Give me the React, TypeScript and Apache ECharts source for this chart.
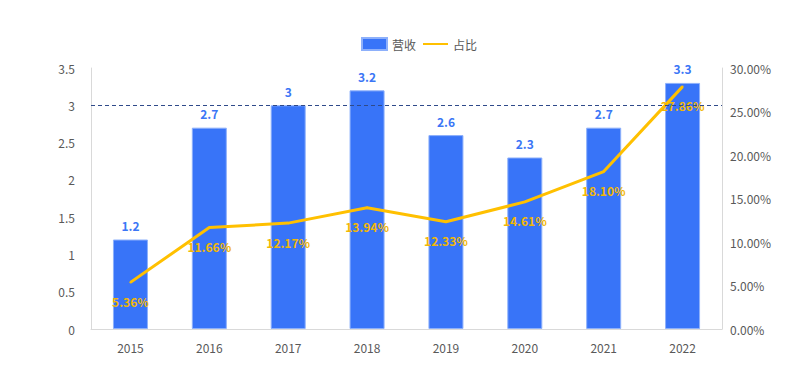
import React, { useEffect, useRef } from "react";
import * as echarts from "echarts";

const categories = ["2015", "2016", "2017", "2018", "2019", "2020", "2021", "2022"];
const revenue = [1.2, 2.7, 3, 3.2, 2.6, 2.3, 2.7, 3.3];
const ratio = [5.36, 11.66, 12.17, 13.94, 12.33, 14.61, 18.1, 27.86];
const refLine = 3;

const FONT = "'Noto Sans CJK SC', 'Noto Sans', sans-serif";

export default function App() {
  const ref = useRef<HTMLDivElement>(null);
  useEffect(() => {
    const chart = echarts.init(ref.current!, null, { renderer: "svg" });
    chart.setOption({
      animation: false,
      textStyle: { fontFamily: FONT },
      legend: {
        top: 32,
        left: 356,
        itemWidth: 25,
        itemHeight: 12,
        itemGap: 6,
        textStyle: { color: "#595959", fontSize: 12, fontFamily: FONT },
        data: [
          { name: "营收", icon: "rect" },
          { name: "占比", itemStyle: { opacity: 0 } },
        ],
      },
      grid: { left: 91, right: 85, top: 68, bottom: 53 },
      xAxis: {
        type: "category",
        data: categories,
        axisLine: { show: true, lineStyle: { color: "#D9D9D9", width: 1 } },
        axisTick: { show: false },
        axisLabel: { color: "#595959", fontSize: 12, margin: 12, fontFamily: FONT },
      },
      yAxis: [
        {
          type: "value",
          min: 0,
          max: 3.5,
          interval: 0.5,
          axisLine: { show: true, lineStyle: { color: "#D9D9D9" } },
          axisTick: { show: false },
          splitLine: { show: false },
          axisLabel: { color: "#595959", fontSize: 12, margin: 16, fontFamily: FONT },
        },
        {
          type: "value",
          min: 0,
          max: 30,
          interval: 5,
          position: "right",
          axisLine: { show: true, lineStyle: { color: "#D9D9D9" } },
          axisTick: { show: false },
          splitLine: { show: false },
          axisLabel: {
            color: "#595959",
            fontSize: 12,
            margin: 8,
            fontFamily: FONT,
            formatter: (v: number) => v.toFixed(2) + "%",
          },
        },
      ],
      series: [
        {
          name: "营收",
          type: "bar",
          data: revenue,
          barWidth: 35,
          itemStyle: { color: "#3874F8", borderColor: "#8DB0FB", borderWidth: 1 },
          label: {
            show: true,
            position: "top",
            distance: 8,
            color: "#3B76F6",
            fontWeight: "bold",
            fontSize: 12,
            fontFamily: FONT,
          },
          markLine: {
            silent: true,
            symbol: "none",
            label: { show: false },
            lineStyle: { color: "#2F4A8A", type: [4, 3], width: 1 },
            data: [{ yAxis: refLine }],
          },
          z: 2,
        },
        {
          name: "占比",
          type: "line",
          yAxisIndex: 1,
          data: ratio,
          symbol: "circle",
          symbolSize: 2,
          showSymbol: true,
          lineStyle: { color: "#FFC000", width: 3 },
          itemStyle: { color: "#FFC000" },
          label: {
            show: true,
            position: "bottom",
            distance: 12,
            color: "#F2B705",
            fontWeight: "bold",
            fontSize: 12,
            fontFamily: FONT,
            formatter: (p: any) => Number(p.value).toFixed(2) + "%",
          },
          z: 3,
        },
      ],
    });
    return () => chart.dispose();
  }, []);
  return <div ref={ref} style={{ width: 807, height: 382, position: "absolute", left: 0, top: 0 }} />;
}
